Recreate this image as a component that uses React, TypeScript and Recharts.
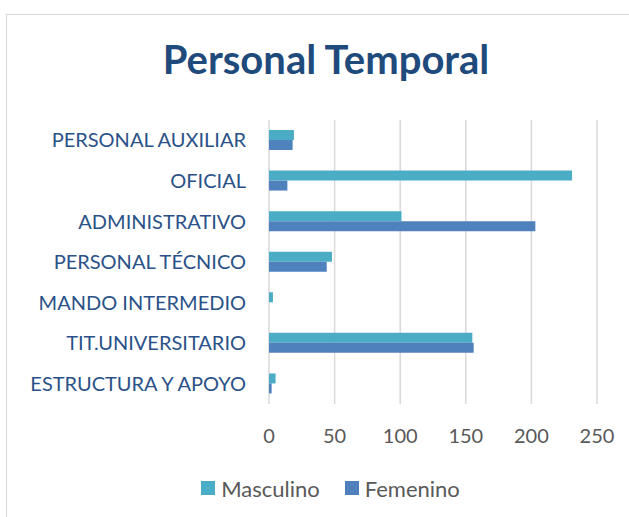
import React from 'react';
import { BarChart, Bar, XAxis, YAxis, CartesianGrid, Legend } from 'recharts';

const categories = [
  'PERSONAL AUXILIAR',
  'OFICIAL',
  'ADMINISTRATIVO',
  'PERSONAL TÉCNICO',
  'MANDO INTERMEDIO',
  'TIT.UNIVERSITARIO',
  'ESTRUCTURA Y APOYO',
];
const masculino = [19, 231, 101, 48, 3, 155, 5];
const femenino = [18, 14, 203, 44, 0, 156, 2];
const xTicks = [0, 50, 100, 150, 200, 250];
const seriesNames = ['Masculino', 'Femenino'];

const data = categories.map((c, i) => ({ name: c, Masculino: masculino[i], Femenino: femenino[i] }));

const FONT = 'Lato, "Open Sans", sans-serif';
const MASC = '#4BACC6';
const FEM = '#4F81BD';

const LegendContent = (props: any) => {
  const items = [...(props.payload || [])].sort(
    (a: any, b: any) => seriesNames.indexOf(a.value) - seriesNames.indexOf(b.value)
  );
  return (
    <div style={{ display: 'flex', justifyContent: 'center', height: 26, alignItems: 'center', fontFamily: FONT, paddingLeft: 32 }}>
      {items.map((it: any, i: number) => (
        <div key={i} style={{ display: 'flex', alignItems: 'center', marginRight: i === 0 ? 25 : 0 }}>
          <div style={{ width: 14, height: 14, background: it.color, marginRight: 6 }} />
          <span style={{ fontSize: 22, color: '#595959' }}>{it.value}</span>
        </div>
      ))}
    </div>
  );
};

export default function App() {
  return (
    <div style={{ position: 'absolute', left: 0, top: 0, width: 629, height: 517, overflow: 'hidden', background: '#fff' }}>
      <div style={{ position: 'absolute', left: 6, top: 14, width: 700, height: 600, border: '1px solid #d9d9d9' }} />
      <div style={{ position: 'absolute', left: 0, top: 35, width: 652, textAlign: 'center', fontFamily: FONT, fontWeight: 700, fontSize: 40, lineHeight: '48px', color: '#1F4A7C' }}>
        Personal Temporal
      </div>
      <div style={{ position: 'absolute', left: 0, top: 0 }}>
        <BarChart
          width={629}
          height={517}
          data={data}
          layout="vertical"
          margin={{ top: 120, right: 32, left: 0, bottom: 47 }}
          barGap={0}
          barSize={10}
        >
          <CartesianGrid horizontal={false} stroke="#d9d9d9" strokeWidth={1.5} />
          <XAxis
            type="number"
            domain={[0, 250]}
            ticks={xTicks}
            interval={0}
            axisLine={false}
            tickLine={false}
            tickSize={0}
            tickMargin={25}
            height={40}
            tick={{ fill: '#595959', fontSize: 20, fontFamily: FONT }}
          />
          <YAxis
            type="category"
            dataKey="name"
            width={269}
            axisLine={false}
            tickLine={false}
            tickSize={0}
            tickMargin={23}
            interval={0}
            tick={{ fill: '#2A5288', fontSize: 20, fontFamily: FONT }}
          />
          <Legend
            verticalAlign="bottom"
            content={<LegendContent />}
            wrapperStyle={{ top: 475, bottom: 'auto', left: 0, width: 629 }}
          />
          <Bar dataKey="Masculino" fill={MASC} isAnimationActive={false} />
          <Bar dataKey="Femenino" fill={FEM} isAnimationActive={false} />
        </BarChart>
      </div>
    </div>
  );
}
